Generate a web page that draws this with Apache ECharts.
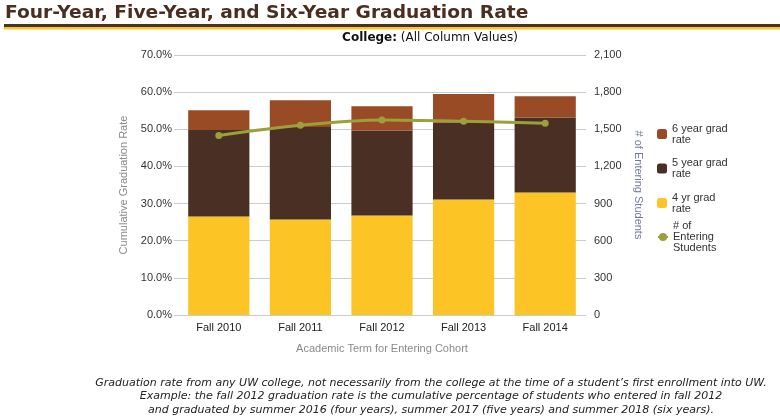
<!DOCTYPE html>
<html><head><meta charset="utf-8">
<script src="https://cdn.jsdelivr.net/npm/echarts@6/dist/echarts.min.js"></script>
<style>html,body{margin:0;padding:0;background:#fff}#c{width:780px;height:417px}</style>
</head><body><div id="c"></div>
<script>
const categories = ['Fall 2010','Fall 2011','Fall 2012','Fall 2013','Fall 2014'];
const fourYr = [26.5, 25.7, 26.8, 31.1, 33.0];
const fiveYrAdded = [23.3, 24.9, 22.9, 20.7, 20.2];
const sixYrAdded = [5.3, 7.2, 6.5, 7.7, 5.7];
const entering = [1450, 1532, 1575, 1565, 1549];
const leftTicks = {min: 0, max: 70, interval: 10};
const rightTicks = {min: 0, max: 2100, interval: 300};
const legendLabels = {
  '6 year grad rate': '6 year grad\nrate',
  '5 year grad rate': '5 year grad\nrate',
  '4 yr grad rate': '4 yr grad\nrate',
  '# of Entering Students': '# of\nEntering\nStudents'
};
const footnote = [
  'Graduation rate from any UW college, not necessarily from the college at the time of a student\u2019s first enrollment into UW.',
  'Example: the fall 2012 graduation rate is the cumulative percentage of students who entered in fall 2012',
  'and graduated by summer 2016 (four years), summer 2017 (five years) and summer 2018 (six years).'
];

const chart = echarts.init(document.getElementById('c'));
const axisFont = 'Liberation Sans, Arial, sans-serif';
const uiFont = 'DejaVu Sans, Verdana, sans-serif';
const legendText = {fontFamily: axisFont, fontSize: 11, color: '#333', lineHeight: 11};
chart.setOption({
  animation: false,
  graphic: [
    {type:'text', x: 5, y: 13.5, scaleX: 1.097, style:{text:'Four-Year, Five-Year, and Six-Year Graduation Rate', verticalAlign:'middle', fontFamily: uiFont, fontWeight:'bold', fontSize:17, fill:'#4a2e20'}},
    {type:'rect', shape:{x:4, y:24, width:776, height:3}, style:{fill:'#4d3120'}},
    {type:'rect', shape:{x:4, y:27, width:776, height:2.5}, style:{fill:'#fcc42b'}},
    {type:'text', x: 430, y: 38, style:{text:'{b|College:} (All Column Values)', align:'center', verticalAlign:'middle', fontFamily: uiFont, fontSize:12, fill:'#111',
       rich:{b:{fontWeight:'bold', fontFamily: uiFont, fontSize:12, fill:'#111'}}}},
    {type:'text', x: 431, y: 383, style:{text: footnote[0], align:'center', verticalAlign:'middle', fontFamily: uiFont, fontStyle:'italic', fontSize:11, fill:'#222'}},
    {type:'text', x: 431, y: 396.5, style:{text: footnote[1], align:'center', verticalAlign:'middle', fontFamily: uiFont, fontStyle:'italic', fontSize:11, fill:'#222'}},
    {type:'text', x: 431, y: 410, style:{text: footnote[2], align:'center', verticalAlign:'middle', fontFamily: uiFont, fontStyle:'italic', fontSize:11, fill:'#222'}}
  ],
  grid: {left: 178, right: 194, top: 55, bottom: 102},
  legend: [
    {orient: 'vertical', left: 652, top: 118, itemGap: 12.5, itemWidth: 10, itemHeight: 10,
     data: ['6 year grad rate','5 year grad rate','4 yr grad rate'],
     formatter: n => legendLabels[n], textStyle: legendText},
    {orient: 'vertical', left: 652, top: 215.5, itemWidth: 10, itemHeight: 10,
     data: ['# of Entering Students'],
     formatter: n => legendLabels[n], textStyle: legendText}
  ],
  xAxis: {
    type: 'category', data: categories,
    axisLine: {lineStyle:{color:'#c5ccd4'}}, axisTick:{show:false},
    axisLabel: {color:'#222', fontFamily: axisFont, fontSize: 11, margin: 7},
    name: 'Academic Term for Entering Cohort', nameLocation: 'middle', nameGap: 28,
    nameTextStyle: {color:'#8a8a8a', fontFamily: axisFont, fontSize: 11}
  },
  yAxis: [
    {type:'value', min:leftTicks.min, max:leftTicks.max, interval:leftTicks.interval,
     axisLabel:{formatter: v => v.toFixed(1) + '%', color:'#333', fontFamily: axisFont, fontSize: 11, margin: 6},
     axisTick:{show:true, length:4, lineStyle:{color:'#c5ccd4'}}, axisLine:{show:false},
     splitLine:{lineStyle:{color:'#c5ccd4'}},
     name:'Cumulative Graduation Rate', nameLocation:'middle', nameGap: 45,
     nameTextStyle:{color:'#8a8a8a', fontFamily: axisFont, fontSize: 11}},
    {type:'value', min:rightTicks.min, max:rightTicks.max, interval:rightTicks.interval,
     axisLabel:{formatter: v => v.toLocaleString('en-US'), color:'#333', fontFamily: axisFont, fontSize: 11, margin: 8},
     axisTick:{show:false}, axisLine:{show:false}, splitLine:{show:false},
     name:'# of Entering Students', nameLocation:'middle', nameGap: 46, nameRotate: -90,
     nameTextStyle:{color:'#6f7c95', fontFamily: axisFont, fontSize: 11}}
  ],
  series: [
    {name:'4 yr grad rate', type:'bar', stack:'g', data: fourYr, barCategoryGap:'25%', itemStyle:{color:'#fdc425'}},
    {name:'5 year grad rate', type:'bar', stack:'g', data: fiveYrAdded, itemStyle:{color:'#4a2f25'}},
    {name:'6 year grad rate', type:'bar', stack:'g', data: sixYrAdded, itemStyle:{color:'#994b25'}},
    {name:'# of Entering Students', type:'line', yAxisIndex:1, data: entering, smooth: 0.3,
     symbol:'circle', symbolSize: 7, lineStyle:{width:3, color:'#9ca03a'}, itemStyle:{color:'#9ca03a'}}
  ]
});
</script></body></html>
